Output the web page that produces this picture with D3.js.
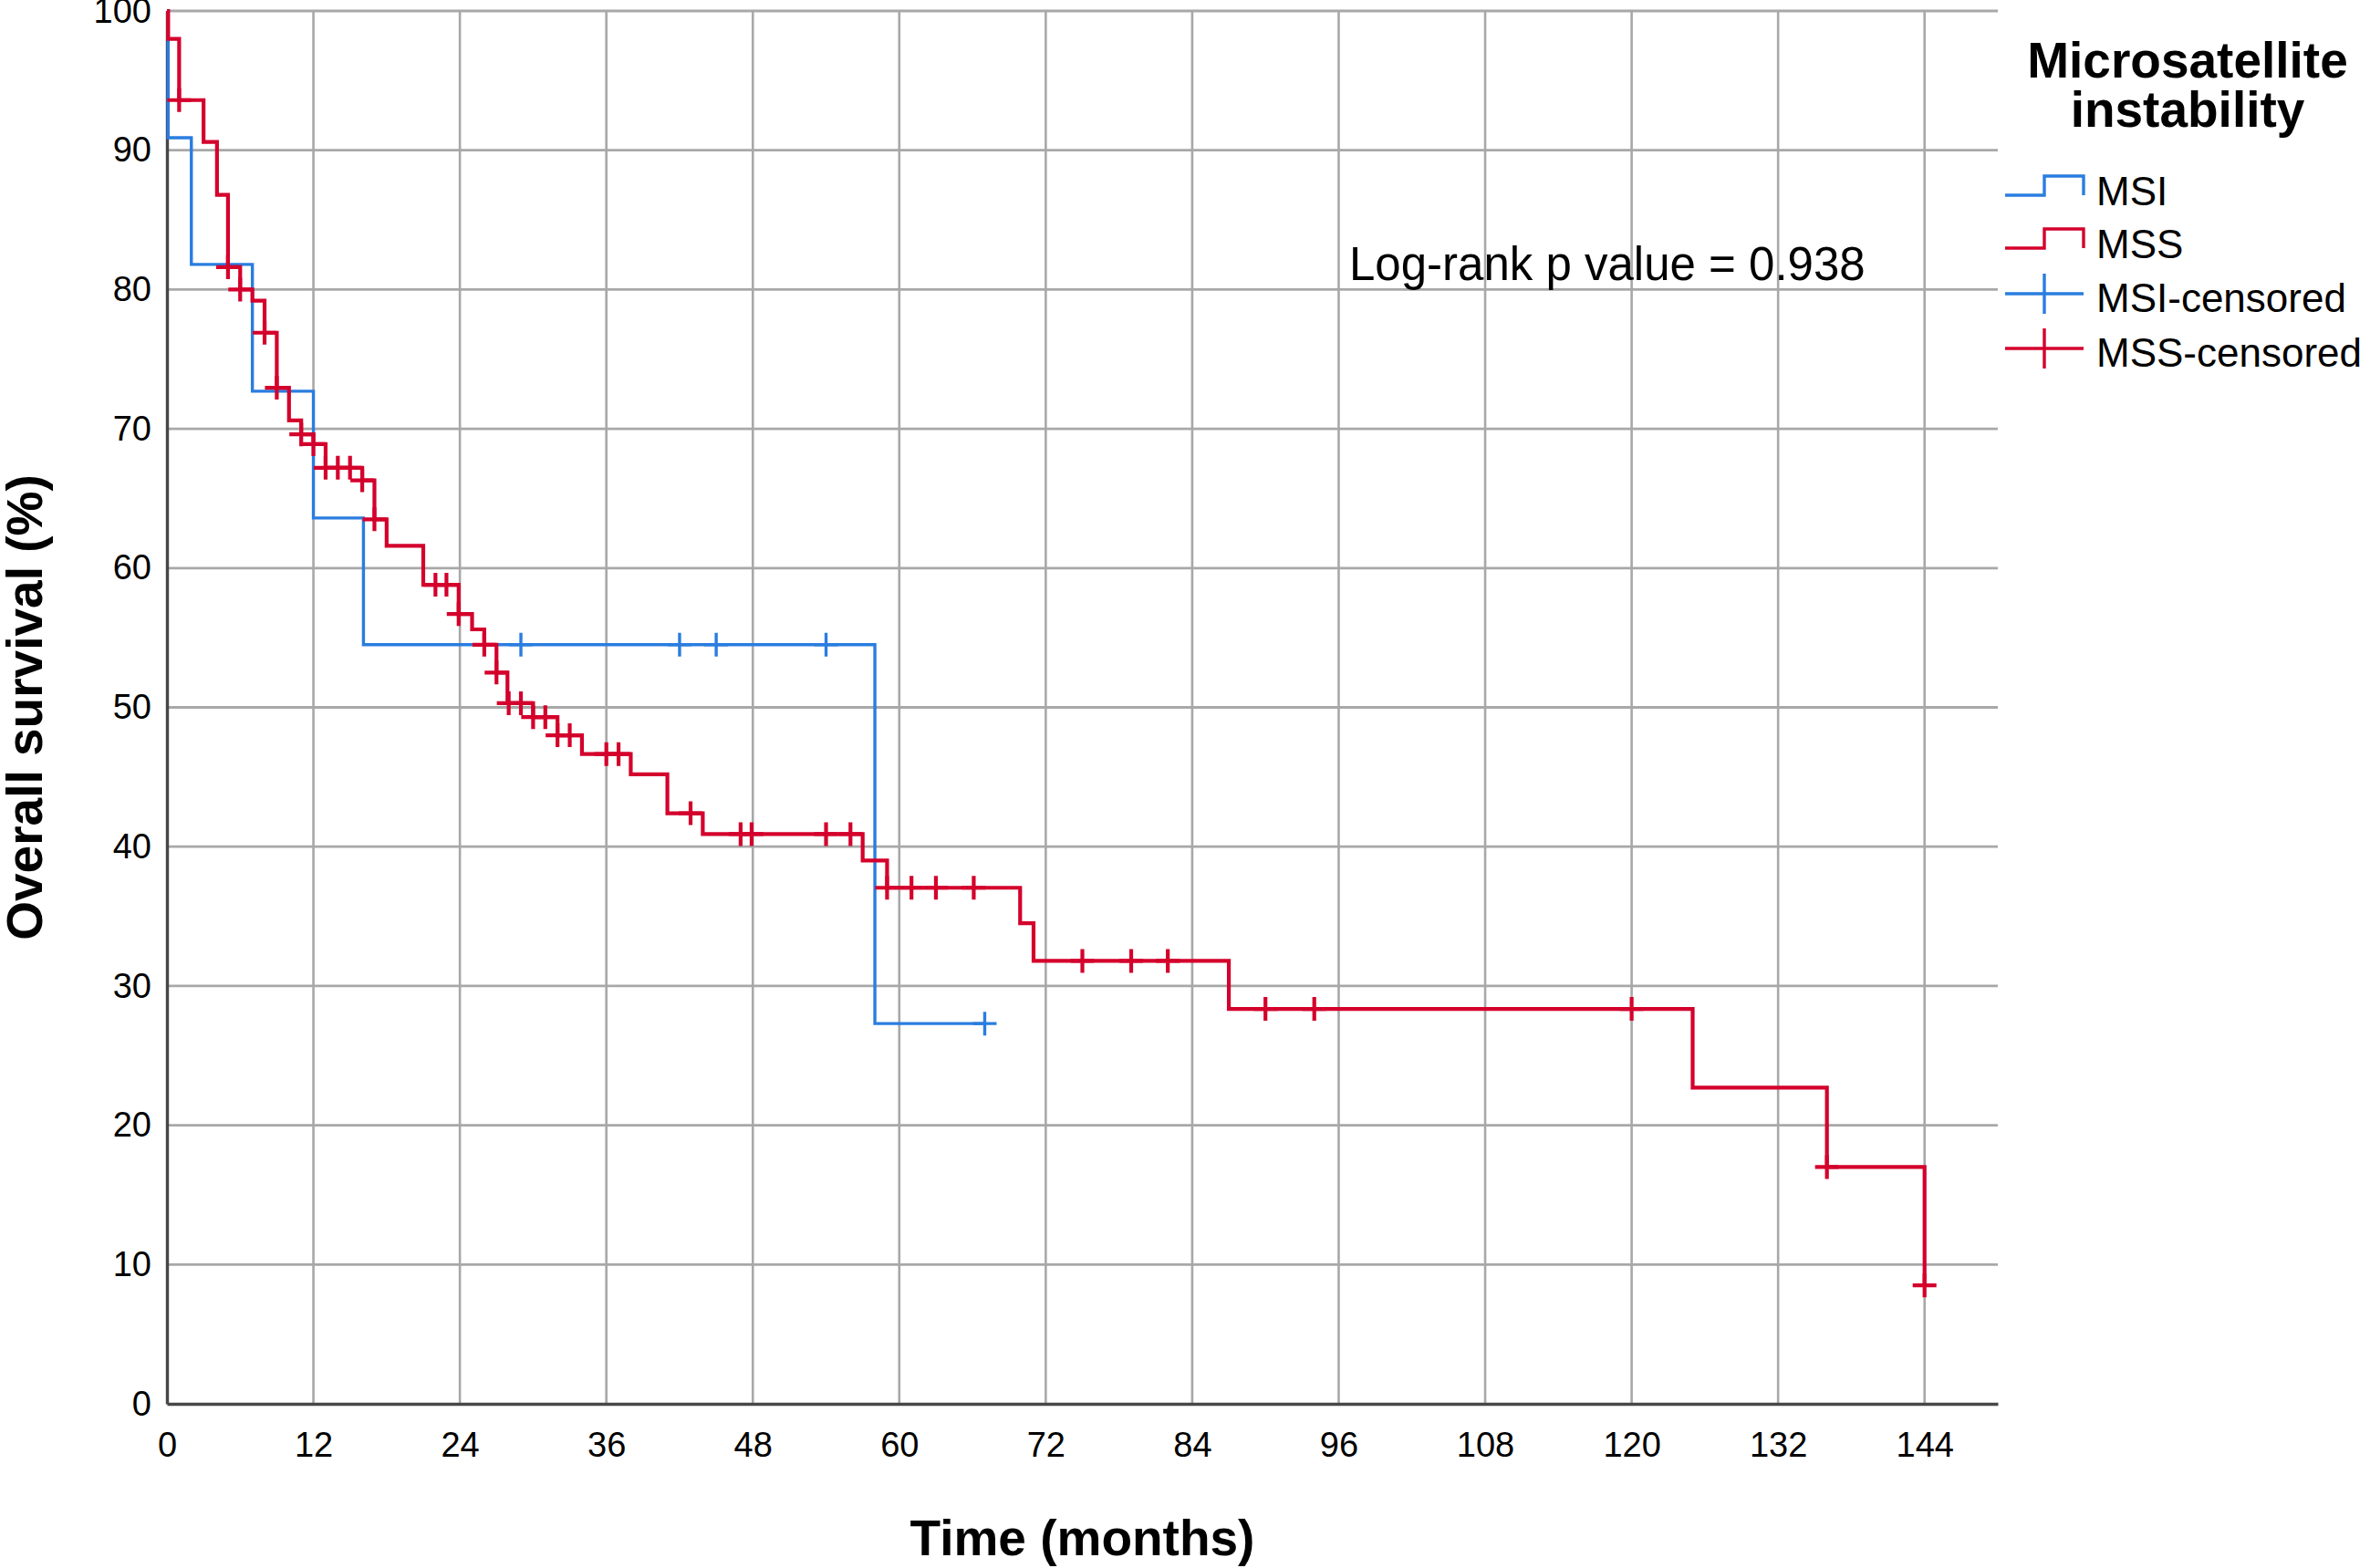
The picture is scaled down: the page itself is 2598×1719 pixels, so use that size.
<!DOCTYPE html>
<html>
<head>
<meta charset="utf-8">
<script src="https://cdn.jsdelivr.net/npm/d3@7"></script>
<style>
  html, body { margin: 0; padding: 0; background: #fff; }
  svg { display: block; }
  text { font-family: "Liberation Sans", Arial, sans-serif; fill: #000; }
</style>
</head>
<body>
<svg id="chart" width="2598" height="1719"></svg>
<script>
// ---------------- DATA ----------------
const groups = ["MSI", "MSS"];
const legendLabels = ["MSI", "MSS", "MSI-censored", "MSS-censored"];
const legendTitle = ["Microsatellite", "instability"];
const xTicks = [0, 12, 24, 36, 48, 60, 72, 84, 96, 108, 120, 132, 144];
const yTicks = [0, 10, 20, 30, 40, 50, 60, 70, 80, 90, 100];
const xTitle = "Time (months)";
const yTitle = "Overall survival (%)";
const annotation = "Log-rank p value = 0.938";

// MSI step curve (time in months, survival %)
const msiTimes = [0, 0.1, 2.0, 7.0, 12.0, 16.1, 58.0, 67.0];
const msiSurv  = [100, 90.9, 81.8, 72.7, 63.6, 54.5, 27.3, 27.3];
const msiCensTimes = [29.0, 42.0, 45.0, 54.0, 67.0];
const msiCensSurv  = [54.5, 54.5, 54.5, 54.5, 27.3];

// MSS step curve
const mssTimes = [0, 0.1, 1.0, 3.0, 4.1, 5.0, 6.0, 7.0, 8.0, 9.0, 10.0, 11.0, 12.0, 13.0, 16.0, 17.0, 18.0,
                  21.0, 23.9, 25.0, 26.0, 27.0, 27.9, 30.0, 32.0, 34.0, 38.0, 41.0, 43.9, 57.0, 59.0,
                  69.9, 71.0, 87.0, 125.0, 136.0, 144.0];
const mssSurv  = [100, 98.0, 93.6, 90.6, 86.8, 81.6, 80.0, 79.2, 76.9, 72.95, 70.6, 69.6, 68.9, 67.2, 66.3, 63.5, 61.6,
                  58.8, 56.7, 55.6, 54.5, 52.5, 50.3, 49.3, 48.0, 46.65, 45.2, 42.4, 40.9, 39.0, 37.05,
                  34.5, 31.8, 28.35, 22.7, 17.0, 8.5];
const mssCensTimes = [1.0, 5.0, 6.0, 8.0, 9.0, 11.0, 12.0, 13.0, 14.0, 15.0, 16.0, 17.0, 22.0, 22.9, 23.9,
                      26.0, 27.0, 28.0, 29.0, 30.0, 31.0, 32.0, 33.0, 36.0, 37.0, 42.9, 47.0, 47.9, 54.0, 56.0,
                      59.0, 61.0, 63.0, 66.1, 75.0, 79.0, 82.0, 90.0, 94.0, 120.0, 136.0, 144.0];
const mssCensSurv  = [93.6, 81.6, 80.0, 76.9, 72.95, 69.6, 68.9, 67.2, 67.2, 67.2, 66.3, 63.5, 58.8, 58.8, 56.7,
                      54.5, 52.5, 50.3, 50.3, 49.3, 49.3, 48.0, 48.0, 46.65, 46.65, 42.4, 40.9, 40.9, 40.9, 40.9,
                      37.05, 37.05, 37.05, 37.05, 31.8, 31.8, 31.8, 28.35, 28.35, 28.35, 17.0, 8.5];

// ---------------- STYLE ----------------
const colors = { MSI: "#2a7de0", MSS: "#d4002c" };
const font = "'Liberation Sans', Arial, sans-serif";

const svg = d3.select("#chart");
svg.append("rect").attr("width", 2598).attr("height", 1719).attr("fill", "#fff");

const x = d3.scaleLinear().domain([0, 150]).range([183, 2190]);
const y = d3.scaleLinear().domain([0, 100]).range([1539, 12]);

// gridlines
const grid = svg.append("g").attr("class", "grid");
grid.selectAll("line.h").data(yTicks.filter(d => d > 0)).join("line")
  .attr("x1", x(0)).attr("x2", x(150))
  .attr("y1", d => y(d)).attr("y2", d => y(d))
  .attr("stroke", "#a8a8a8").attr("stroke-width", 2.8);
grid.selectAll("line.v").data(xTicks.filter(d => d > 0)).join("line")
  .attr("x1", d => x(d)).attr("x2", d => x(d))
  .attr("y1", y(100)).attr("y2", y(0))
  .attr("stroke", "#a8a8a8").attr("stroke-width", 2.6);

// axes
const xAxis = svg.append("g").attr("transform", `translate(0,${y(0)})`)
  .call(d3.axisBottom(x).tickValues(xTicks).tickSize(0).tickSizeOuter(0).tickPadding(31));
const yAxis = svg.append("g").attr("transform", `translate(${x(0)},0)`)
  .call(d3.axisLeft(y).tickValues(yTicks).tickSize(0).tickSizeOuter(0).tickPadding(17));
[xAxis, yAxis].forEach(a => {
  a.select(".domain").attr("stroke", "#474747").attr("stroke-width", 3.4);
  a.selectAll("text").attr("font-size", 38).attr("font-family", font).attr("fill", "#000");
});

// curves
const line = d3.line().x(d => x(d[0])).y(d => y(d[1])).curve(d3.curveStepAfter);
const series = [
  { key: "MSI", times: msiTimes, surv: msiSurv, ct: msiCensTimes, cs: msiCensSurv, w: 3.4 },
  { key: "MSS", times: mssTimes, surv: mssSurv, ct: mssCensTimes, cs: mssCensSurv, w: 4.2 }
];
const arm = 13;
series.forEach(s => {
  const pts = s.times.map((t, i) => [t, s.surv[i]]);
  svg.append("path").datum(pts)
    .attr("d", line).attr("fill", "none")
    .attr("stroke", colors[s.key]).attr("stroke-width", s.w)
    .attr("stroke-linejoin", "miter");
  const cens = s.ct.map((t, i) => [t, s.cs[i]]);
  svg.append("g").selectAll("path").data(cens).join("path")
    .attr("d", d => {
      const cx = x(d[0]), cy = y(d[1]);
      return `M${cx - arm},${cy}H${cx + arm}M${cx},${cy - arm}V${cy + arm}`;
    })
    .attr("fill", "none").attr("stroke", colors[s.key]).attr("stroke-width", s.w);
});

// axis titles
svg.append("text").attr("x", (x(0) + x(150)) / 2).attr("y", 1705)
  .attr("text-anchor", "middle").attr("font-size", 55).attr("font-weight", "bold")
  .attr("font-family", font).text(xTitle);
svg.append("text")
  .attr("transform", `translate(46,${(y(0) + y(100)) / 2}) rotate(-90)`)
  .attr("text-anchor", "middle").attr("font-size", 55).attr("font-weight", "bold")
  .attr("font-family", font).text(yTitle);

// annotation
svg.append("text").attr("x", 1479).attr("y", 307)
  .attr("font-size", 51).attr("font-family", font).text(annotation);

// legend
const lg = svg.append("g");
const lt = lg.append("text").attr("text-anchor", "middle").attr("font-size", 55)
  .attr("font-weight", "bold").attr("font-family", font);
lt.selectAll("tspan").data(legendTitle).join("tspan")
  .attr("x", 2398).attr("y", (d, i) => 85 + i * 54).text(d => d);

const itemBase = [225, 283, 342, 402];
const symX0 = 2198, symXm = 2241, symX1 = 2284;
legendLabels.forEach((lab, i) => {
  const key = groups[i % 2];
  const col = colors[key];
  const base = itemBase[i];
  if (i < 2) {
    const lo = base - 11, hi = base - 32;
    lg.append("path")
      .attr("d", `M${symX0},${lo}H${symXm}V${hi}H${symX1}V${lo}`)
      .attr("fill", "none").attr("stroke", col).attr("stroke-width", 3.4);
  } else {
    const cy = base - 20;
    lg.append("path")
      .attr("d", `M${symX0},${cy}H${symX1}M${symXm},${cy - 22}V${cy + 22}`)
      .attr("fill", "none").attr("stroke", col).attr("stroke-width", 3.4);
  }
  lg.append("text").attr("x", 2298).attr("y", base)
    .attr("font-size", 44).attr("font-family", font).text(lab);
});
</script>
</body>
</html>
